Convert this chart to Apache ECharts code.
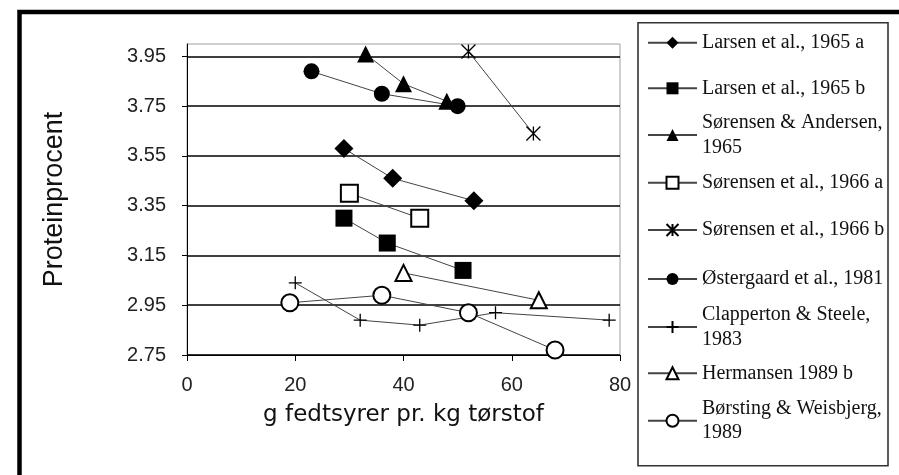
<!DOCTYPE html>
<html>
<head>
<meta charset="utf-8">
<script src="https://cdn.jsdelivr.net/npm/echarts@6/dist/echarts.min.js"></script>
<style>
html,body{margin:0;padding:0;background:#fff;}
#chart{width:899px;height:475px;}
</style>
</head>
<body>
<div id="chart"></div>
<script>
// ---- data ----
const seriesNames = [
  'Larsen et al., 1965 a',
  'Larsen et al., 1965 b',
  'Sørensen & Andersen, 1965',
  'Sørensen et al., 1966 a',
  'Sørensen et al., 1966 b',
  'Østergaard et al., 1981',
  'Clapperton & Steele, 1983',
  'Hermansen 1989 b',
  'Børsting & Weisbjerg, 1989'
];
const legendLabels = [
  'Larsen et al., 1965 a',
  'Larsen et al., 1965 b',
  'Sørensen & Andersen,\n1965',
  'Sørensen et al., 1966 a',
  'Sørensen et al., 1966 b',
  'Østergaard et al., 1981',
  'Clapperton & Steele,\n1983',
  'Hermansen 1989 b',
  'Børsting & Weisbjerg,\n1989'
];
const xLarsenA = [29, 38, 53];
const yLarsenA = [3.58, 3.46, 3.37];
const xLarsenB = [29, 37, 51];
const yLarsenB = [3.30, 3.20, 3.09];
const xSorAnd = [33, 40, 48];
const ySorAnd = [3.96, 3.84, 3.77];
const xSor66a = [30, 43];
const ySor66a = [3.40, 3.30];
const xSor66b = [52, 64];
const ySor66b = [3.97, 3.64];
const xOster = [23, 36, 50];
const yOster = [3.89, 3.80, 3.75];
const xClap = [20, 32, 43, 57, 78];
const yClap = [3.04, 2.89, 2.87, 2.92, 2.89];
const xHerm = [40, 65];
const yHerm = [3.08, 2.97];
const xBors = [19, 36, 52, 68];
const yBors = [2.96, 2.99, 2.92, 2.77];
const yTickValues = [2.75, 2.95, 3.15, 3.35, 3.55, 3.75, 3.95];
const xTickValues = [0, 20, 40, 60, 80];

const xs = [xLarsenA, xLarsenB, xSorAnd, xSor66a, xSor66b, xOster, xClap, xHerm, xBors];
const ys = [yLarsenA, yLarsenB, ySorAnd, ySor66a, ySor66b, yOster, yClap, yHerm, yBors];

// ---- styling ----
const plusPath = 'path://M0,5L10,5M5,0L5,10';
const starPath = 'path://M0,0L10,10M10,0L0,10M5,0L5,10';
const symbols = ['diamond', 'rect', 'triangle', 'emptyRect', starPath, 'circle', plusPath, 'emptyTriangle', 'emptyCircle'];
const sizes = [19, 17, 17, 17, 14, 16, 13, 16, 17];
const legendCenters = [42.7, 88.3, 135, 182.7, 230, 279, 327, 373.3, 420.7];
const LH = 24.5;

const series = seriesNames.map((name, i) => {
  const isPath = symbols[i].indexOf('path://') === 0;
  return {
    name: name,
    type: 'line',
    data: xs[i].map((x, j) => [x, ys[i][j]]),
    symbol: symbols[i],
    symbolSize: sizes[i],
    symbolKeepAspect: true,
    clip: false,
    lineStyle: {color: '#444', width: 1},
    itemStyle: isPath ? {color: '#000', borderColor: '#000', borderWidth: 1.3}
                      : {color: '#000', borderColor: '#000', borderWidth: symbols[i].indexOf('empty') === 0 ? 1.5 : 0},
    emphasis: {disabled: true},
    z: 3
  };
});

const legends = seriesNames.map((name, i) => {
  const wrapped = legendLabels[i].indexOf('\n') >= 0;
  return {
    data: [name],
    left: 647,
    top: legendCenters[i] - (wrapped ? 1.5 * LH : 0.5 * LH),
    padding: 0,
    itemWidth: 49,
    itemHeight: 15,
    itemGap: 0,
    selectedMode: false,
    formatter: () => legendLabels[i],
    textStyle: {
      fontFamily: 'Liberation Serif',
      fontSize: 20,
      color: '#111',
      lineHeight: LH,
      padding: wrapped ? [LH, 0, 0, 0] : 0,
      backgroundColor: 'rgba(255,255,255,0)'
    }
  };
});

const chart = echarts.init(document.getElementById('chart'), null, {renderer: 'canvas'});
chart.setOption({
  animation: false,
  backgroundColor: '#fff',
  grid: {
    left: 187, right: 279, top: 44, bottom: 120,
    show: true, borderColor: '#a0a0a0', borderWidth: 1, backgroundColor: 'transparent'
  },
  legend: legends,
  xAxis: {
    type: 'value',
    min: 0, max: 80, interval: 20,
    name: 'g fedtsyrer pr. kg tørstof',
    nameLocation: 'middle',
    nameGap: 49,
    nameTextStyle: {fontFamily: 'DejaVu Sans', fontSize: 23, color: '#111'},
    axisLine: {show: true, onZero: false, lineStyle: {color: '#000', width: 1}},
    axisTick: {show: true, length: 6, inside: false, lineStyle: {color: '#000'}},
    axisLabel: {margin: 20, fontFamily: 'Liberation Sans', fontSize: 20, color: '#222',
      formatter: v => xTickValues.indexOf(v) >= 0 ? String(v) : ''},
    splitLine: {show: false}
  },
  yAxis: {
    type: 'value',
    min: 2.75, max: 4.0,
    name: 'Proteinprocent',
    nameLocation: 'middle',
    nameGap: 119,
    nameRotate: 90,
    nameTextStyle: {fontFamily: 'Liberation Sans', fontSize: 27, color: '#111'},
    axisLine: {show: true, onZero: false, lineStyle: {color: '#000', width: 1}},
    axisTick: {show: true, length: 5, inside: false, customValues: yTickValues, lineStyle: {color: '#000'}},
    axisLabel: {margin: 21, fontFamily: 'Liberation Sans', fontSize: 20, color: '#222',
      customValues: yTickValues, formatter: v => Number(v).toFixed(2)},
    splitLine: {show: true, lineStyle: {color: '#000', width: 1.5}}
  },
  graphic: [
    {type: 'rect', shape: {x: 19.5, y: 12, width: 1000, height: 1000}, style: {fill: 'none', stroke: '#000', lineWidth: 4.5}, z: 10, silent: true},
    {type: 'rect', shape: {x: 638, y: 22.7, width: 250, height: 443}, style: {fill: 'none', stroke: '#333', lineWidth: 1.6}, z: 10, silent: true}
  ],
  series: series
});
</script>
</body>
</html>
